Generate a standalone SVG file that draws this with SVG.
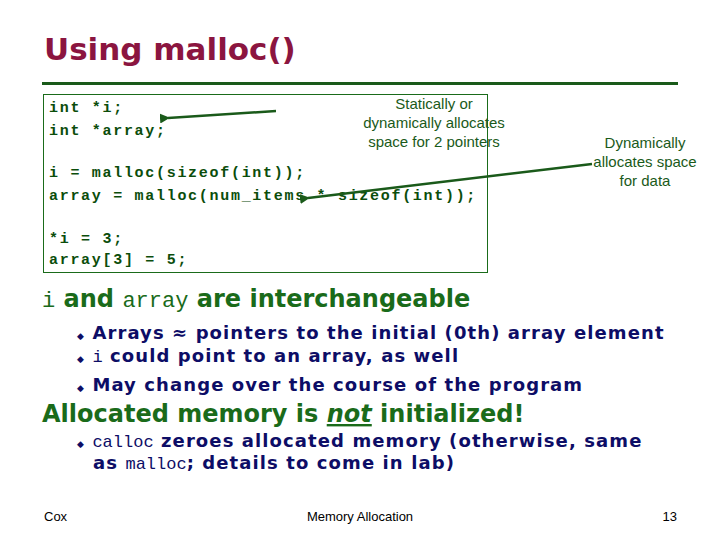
<svg xmlns="http://www.w3.org/2000/svg" width="720" height="540" viewBox="0 0 720 540">
<defs>
<style>
.code{font-family:"Liberation Mono",monospace;font-weight:bold;font-size:15px;letter-spacing:1.7px;fill:#0b4d0b}
.note{font-family:"Liberation Sans",sans-serif;font-size:15px;fill:#1a5a1a;text-anchor:middle}
.h{font-family:"DejaVu Sans",sans-serif;font-weight:bold;font-size:24px;fill:#1a6b1a}
.b{font-family:"DejaVu Sans",sans-serif;font-weight:bold;font-size:18px;letter-spacing:1.1px;fill:#0d0d66}
.m{font-family:"Liberation Mono",monospace;font-weight:normal;letter-spacing:0}
.f{font-family:"Liberation Sans",sans-serif;font-size:13px;fill:#000}
</style>
<marker id="ah" viewBox="0 0 10 10" refX="2" refY="5" markerWidth="4" markerHeight="4" orient="auto"><path d="M10,0 L0,5 L10,10 z" fill="#1a5a1a"/></marker>
</defs>
<rect width="720" height="540" fill="#fff"/>
<text x="44" y="60" font-family="DejaVu Sans,sans-serif" font-weight="bold" font-size="31" fill="#8b1540">Using malloc()</text>
<rect x="42" y="82" width="636" height="3" fill="#1a5a1a"/>
<g id="codebox">
<rect x="43.5" y="94.5" width="444" height="178" fill="none" stroke="#1a6b1a" stroke-width="1"/>
<text class="code" x="49" y="112">int *i;</text>
<text class="code" x="49" y="135">int *array;</text>
<text class="code" x="49" y="177">i = malloc(sizeof(int));</text>
<text class="code" x="49" y="200">array = malloc(num_items * sizeof(int));</text>
<text class="code" x="49" y="243">*i = 3;</text>
<text class="code" x="49" y="264">array[3] = 5;</text>
</g>
<g id="note1"><text class="note" x="434" y="109">Statically or</text><text class="note" x="434" y="128">dynamically allocates</text><text class="note" x="434" y="147">space for 2 pointers</text></g>
<g id="note2"><text class="note" x="645" y="148">Dynamically</text><text class="note" x="645" y="167">allocates space</text><text class="note" x="645" y="186">for data</text></g>
<g id="connectors" stroke="#1a5a1a" stroke-width="2.5" fill="none">
<line x1="276" y1="111" x2="168" y2="118" marker-end="url(#ah)"/>
<line x1="592" y1="164" x2="308" y2="198" marker-end="url(#ah)"/>
</g>
<text class="h" x="42" y="307"><tspan class="m" fill="#1a6b1a" font-size="22">i</tspan> and <tspan class="m" font-size="22">array</tspan> are interchangeable</text>
<g class="b">
<text x="77" y="339"><tspan font-size="9">◆</tspan> Arrays ≈ pointers to the initial (0th) array element</text>
<text x="77" y="362"><tspan font-size="9">◆</tspan> <tspan class="m" font-size="17">i</tspan> could point to an array, as well</text>
<text x="77" y="391"><tspan font-size="9">◆</tspan> May change over the course of the program</text>
</g>
<text class="h" x="42" y="422">Allocated memory is <tspan font-style="italic" text-decoration="underline">not</tspan> initialized!</text>
<g class="b">
<text x="77" y="447"><tspan font-size="9">◆</tspan> <tspan class="m" font-size="17">calloc</tspan> zeroes allocated memory (otherwise, same</text>
<text x="93" y="469">as <tspan class="m" font-size="17">malloc</tspan>; details to come in lab)</text>
</g>
<text class="f" x="44" y="521">Cox</text>
<text class="f" x="360" y="521" text-anchor="middle">Memory Allocation</text>
<text class="f" x="677" y="521" text-anchor="end">13</text>
</svg>
